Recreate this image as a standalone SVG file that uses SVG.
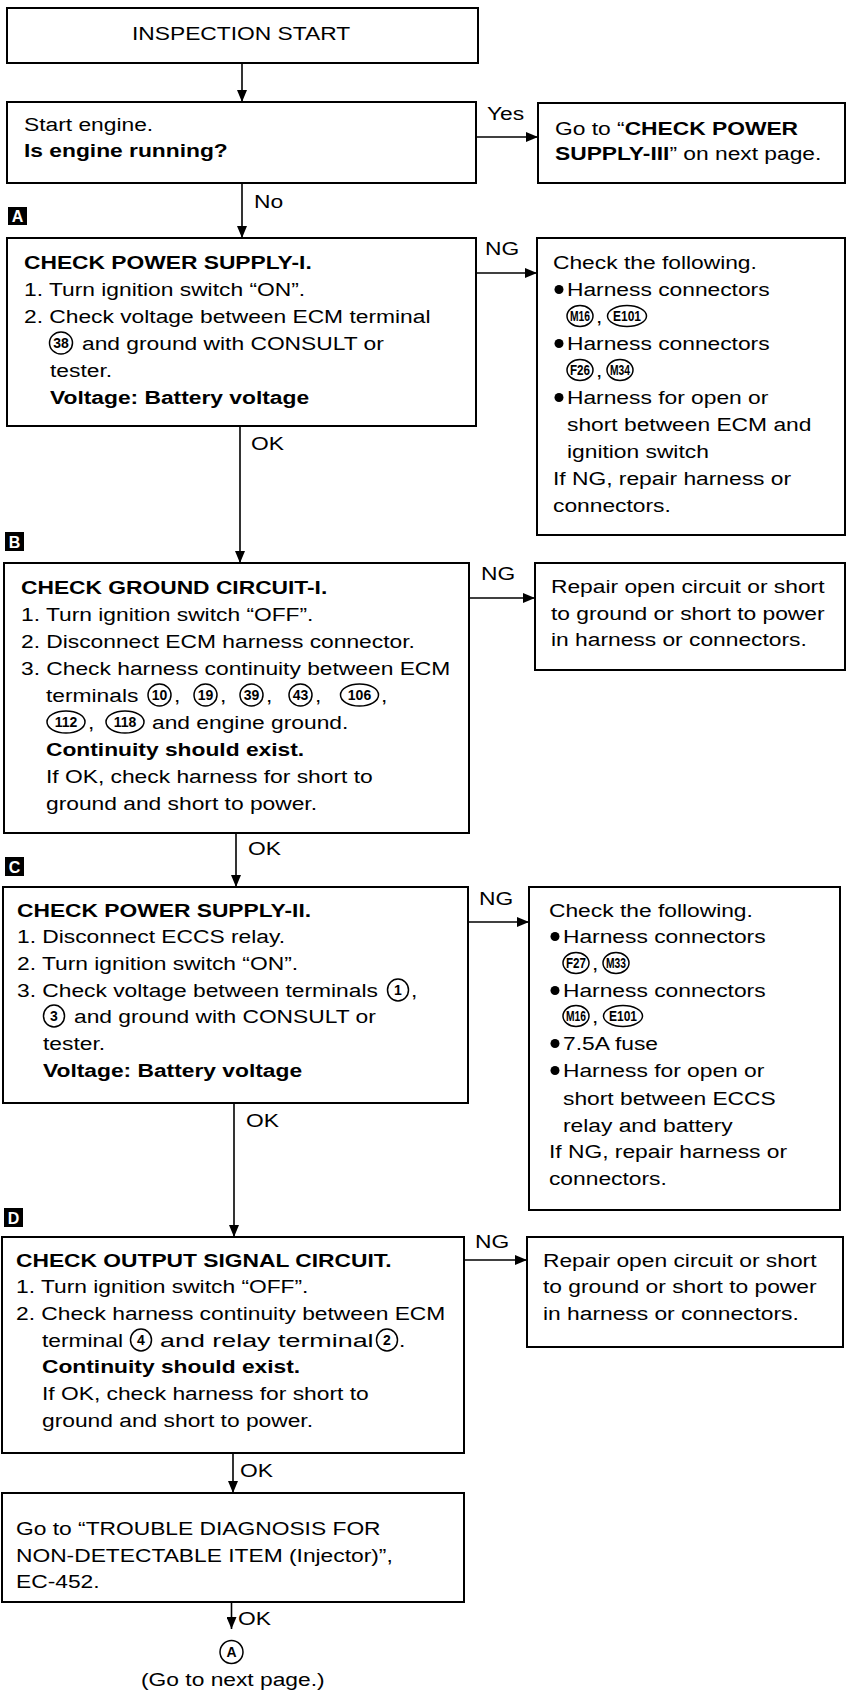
<svg xmlns="http://www.w3.org/2000/svg" width="848" height="1691" viewBox="0 0 848 1691">
<style>
.bx{fill:#fff;stroke:#000;stroke-width:2}
.t{font-family:"Liberation Sans",Arial,sans-serif;font-size:19px;fill:#000;transform-box:fill-box;transform-origin:0 0;transform:scaleX(1.2)}
.b{font-weight:bold}
.ov{fill:none;stroke:#000;stroke-width:1.5}
.ct{font-family:"Liberation Sans",Arial,sans-serif;font-size:14px;font-weight:bold;text-anchor:middle;fill:#000}
.dot{fill:#000}
.cn{fill:none;stroke:#000;stroke-width:1.6}
.tag{fill:#000}
.tt{font-family:"Liberation Sans",Arial,sans-serif;font-size:16px;font-weight:bold;fill:#fff;text-anchor:middle}
</style>
<defs>
<marker id="ah" markerWidth="12" markerHeight="10" refX="12" refY="5" orient="auto" markerUnits="userSpaceOnUse">
<path d="M0,0 L12,5 L0,10 z" fill="#000"/>
</marker>
</defs>

<g id="connectors">
<path class="cn" d="M242,63 V102" marker-end="url(#ah)"/>
<path class="cn" d="M476,137 H538" marker-end="url(#ah)"/>
<text class="t" x="487" y="120">Yes</text>
<path class="cn" d="M242,183 V238" marker-end="url(#ah)"/>
<text class="t" x="254" y="208">No</text>
<path class="cn" d="M476,273 H537" marker-end="url(#ah)"/>
<text class="t" x="485" y="255">NG</text>
<path class="cn" d="M240,426 V563" marker-end="url(#ah)"/>
<text class="t" x="251" y="450">OK</text>
<path class="cn" d="M469,598 H535" marker-end="url(#ah)"/>
<text class="t" x="481" y="580">NG</text>
<path class="cn" d="M236,833 V887" marker-end="url(#ah)"/>
<text class="t" x="248" y="855">OK</text>
<path class="cn" d="M468,922 H529" marker-end="url(#ah)"/>
<text class="t" x="479" y="905">NG</text>
<path class="cn" d="M234,1103 V1237" marker-end="url(#ah)"/>
<text class="t" x="246" y="1127">OK</text>
<path class="cn" d="M464,1260 H527" marker-end="url(#ah)"/>
<text class="t" x="475" y="1248">NG</text>
<path class="cn" d="M233,1453 V1493" marker-end="url(#ah)"/>
<text class="t" x="240" y="1477">OK</text>
<path class="cn" d="M231.5,1602 V1629" marker-end="url(#ah)"/>
<text class="t" x="238" y="1625">OK</text>
</g>

<g id="tags">
<rect class="tag" x="8" y="207" width="19" height="18"/><text class="tt" x="17.5" y="222">A</text>
<rect class="tag" x="5" y="532" width="19" height="19"/><text class="tt" x="14.5" y="547.5">B</text>
<rect class="tag" x="5" y="857" width="19" height="19"/><text class="tt" x="14.5" y="872.5">C</text>
<rect class="tag" x="4" y="1208" width="19" height="19"/><text class="tt" x="13.5" y="1223.5">D</text>
</g>

<g id="start">
<rect class="bx" x="7" y="8" width="471" height="55"/>
<text class="t" x="132" y="40">INSPECTION START</text>
</g>

<g id="engine">
<rect class="bx" x="7" y="102" width="469" height="81"/>
<text class="t" x="24" y="131">Start engine.</text>
<text class="t b" x="24" y="157">Is engine running?</text>
</g>

<g id="goto3">
<rect class="bx" x="538" y="103" width="307" height="80"/>
<text class="t" x="555" y="135">Go to “<tspan class="b">CHECK POWER</tspan></text>
<text class="t" x="555" y="160"><tspan class="b">SUPPLY-III</tspan>” on next page.</text>
</g>

<g id="boxA">
<rect class="bx" x="7" y="238" width="469" height="188"/>
<text class="t b" x="24" y="269">CHECK POWER SUPPLY-I.</text>
<text class="t" x="24" y="296">1. Turn ignition switch “ON”.</text>
<text class="t" x="24" y="323">2. Check voltage between ECM terminal</text>
<ellipse class="ov" cx="61" cy="343" rx="11.5" ry="11"/><text class="ct" x="61" y="348">38</text>
<text class="t" x="82" y="350">and ground with CONSULT or</text>
<text class="t" x="50" y="377">tester.</text>
<text class="t b" x="50" y="404">Voltage: Battery voltage</text>
</g>

<g id="ngA">
<rect class="bx" x="537" y="238" width="308" height="297"/>
<text class="t" x="553" y="269">Check the following.</text>
<circle class="dot" cx="559" cy="289.5" r="4.5"/>
<text class="t" x="567" y="296">Harness connectors</text>
<ellipse class="ov" cx="580" cy="316" rx="13" ry="10.5"/><text class="ct" x="580" y="321" textLength="20" lengthAdjust="spacingAndGlyphs">M16</text>
<text class="t" x="596" y="323">,</text>
<ellipse class="ov" cx="627" cy="316" rx="19.5" ry="10.5"/><text class="ct" x="627" y="321" textLength="28" lengthAdjust="spacingAndGlyphs">E101</text>
<circle class="dot" cx="559" cy="343.5" r="4.5"/>
<text class="t" x="567" y="350">Harness connectors</text>
<ellipse class="ov" cx="580" cy="370" rx="13" ry="10.5"/><text class="ct" x="580" y="375" textLength="20" lengthAdjust="spacingAndGlyphs">F26</text>
<text class="t" x="596" y="377">,</text>
<ellipse class="ov" cx="620" cy="370" rx="13" ry="10.5"/><text class="ct" x="620" y="375" textLength="20" lengthAdjust="spacingAndGlyphs">M34</text>
<circle class="dot" cx="559" cy="397.5" r="4.5"/>
<text class="t" x="567" y="404">Harness for open or</text>
<text class="t" x="567" y="431">short between ECM and</text>
<text class="t" x="567" y="458">ignition switch</text>
<text class="t" x="553" y="485">If NG, repair harness or</text>
<text class="t" x="553" y="512">connectors.</text>
</g>

<g id="boxB">
<rect class="bx" x="4" y="563" width="465" height="270"/>
<text class="t b" x="21" y="594">CHECK GROUND CIRCUIT-I.</text>
<text class="t" x="21" y="621">1. Turn ignition switch “OFF”.</text>
<text class="t" x="21" y="648">2. Disconnect ECM harness connector.</text>
<text class="t" x="21" y="675">3. Check harness continuity between ECM</text>
<text class="t" x="46" y="702">terminals</text>
<ellipse class="ov" cx="159.5" cy="695" rx="11.5" ry="11"/><text class="ct" x="159.5" y="700">10</text>
<text class="t" x="174" y="702">,</text>
<ellipse class="ov" cx="205.5" cy="695" rx="11.5" ry="11"/><text class="ct" x="205.5" y="700">19</text>
<text class="t" x="220" y="702">,</text>
<ellipse class="ov" cx="251.5" cy="695" rx="11.5" ry="11"/><text class="ct" x="251.5" y="700">39</text>
<text class="t" x="266" y="702">,</text>
<ellipse class="ov" cx="300.5" cy="695" rx="11.5" ry="11"/><text class="ct" x="300.5" y="700">43</text>
<text class="t" x="315" y="702">,</text>
<ellipse class="ov" cx="359.5" cy="695" rx="19" ry="11"/><text class="ct" x="359.5" y="700">106</text>
<text class="t" x="381" y="702">,</text>
<ellipse class="ov" cx="66" cy="722" rx="19" ry="11"/><text class="ct" x="66" y="727">112</text>
<text class="t" x="88" y="729">,</text>
<ellipse class="ov" cx="125" cy="722" rx="19" ry="11"/><text class="ct" x="125" y="727">118</text>
<text class="t" x="152" y="729">and engine ground.</text>
<text class="t b" x="46" y="756">Continuity should exist.</text>
<text class="t" x="46" y="783">If OK, check harness for short to</text>
<text class="t" x="46" y="810">ground and short to power.</text>
</g>

<g id="ngB">
<rect class="bx" x="535" y="563" width="310" height="107"/>
<text class="t" x="551" y="593">Repair open circuit or short</text>
<text class="t" x="551" y="620">to ground or short to power</text>
<text class="t" x="551" y="646">in harness or connectors.</text>
</g>

<g id="boxC">
<rect class="bx" x="3" y="887" width="465" height="216"/>
<text class="t b" x="17" y="917">CHECK POWER SUPPLY-II.</text>
<text class="t" x="17" y="943">1. Disconnect ECCS relay.</text>
<text class="t" x="17" y="970">2. Turn ignition switch “ON”.</text>
<text class="t" x="17" y="997">3. Check voltage between terminals</text>
<ellipse class="ov" cx="398" cy="990" rx="10.5" ry="11"/><text class="ct" x="398" y="995">1</text>
<text class="t" x="411" y="997">,</text>
<ellipse class="ov" cx="54" cy="1016" rx="10.5" ry="11"/><text class="ct" x="54" y="1021">3</text>
<text class="t" x="74" y="1023">and ground with CONSULT or</text>
<text class="t" x="43" y="1050">tester.</text>
<text class="t b" x="43" y="1077">Voltage: Battery voltage</text>
</g>

<g id="ngC">
<rect class="bx" x="529" y="887" width="311" height="323"/>
<text class="t" x="549" y="917">Check the following.</text>
<circle class="dot" cx="555" cy="936.5" r="4.5"/>
<text class="t" x="563" y="943">Harness connectors</text>
<ellipse class="ov" cx="576" cy="963" rx="13" ry="10.5"/><text class="ct" x="576" y="968" textLength="20" lengthAdjust="spacingAndGlyphs">F27</text>
<text class="t" x="592" y="970">,</text>
<ellipse class="ov" cx="616" cy="963" rx="13" ry="10.5"/><text class="ct" x="616" y="968" textLength="20" lengthAdjust="spacingAndGlyphs">M33</text>
<circle class="dot" cx="555" cy="990.5" r="4.5"/>
<text class="t" x="563" y="997">Harness connectors</text>
<ellipse class="ov" cx="576" cy="1016" rx="13" ry="10.5"/><text class="ct" x="576" y="1021" textLength="20" lengthAdjust="spacingAndGlyphs">M16</text>
<text class="t" x="592" y="1023">,</text>
<ellipse class="ov" cx="623" cy="1016" rx="19.5" ry="10.5"/><text class="ct" x="623" y="1021" textLength="28" lengthAdjust="spacingAndGlyphs">E101</text>
<circle class="dot" cx="555" cy="1043.5" r="4.5"/>
<text class="t" x="563" y="1050">7.5A fuse</text>
<circle class="dot" cx="555" cy="1070.5" r="4.5"/>
<text class="t" x="563" y="1077">Harness for open or</text>
<text class="t" x="563" y="1105">short between ECCS</text>
<text class="t" x="563" y="1132">relay and battery</text>
<text class="t" x="549" y="1158">If NG, repair harness or</text>
<text class="t" x="549" y="1185">connectors.</text>
</g>

<g id="boxD">
<rect class="bx" x="2" y="1237" width="462" height="216"/>
<text class="t b" x="16" y="1267">CHECK OUTPUT SIGNAL CIRCUIT.</text>
<text class="t" x="16" y="1293">1. Turn ignition switch “OFF”.</text>
<text class="t" x="16" y="1320">2. Check harness continuity between ECM</text>
<text class="t" x="42" y="1347">terminal</text>
<ellipse class="ov" cx="141" cy="1340" rx="10.5" ry="11"/><text class="ct" x="141" y="1345">4</text>
<text class="t" x="160" y="1347" textLength="178" lengthAdjust="spacingAndGlyphs">and relay terminal</text>
<ellipse class="ov" cx="387" cy="1340" rx="10.5" ry="11"/><text class="ct" x="387" y="1345">2</text>
<text class="t" x="399" y="1347">.</text>
<text class="t b" x="42" y="1373">Continuity should exist.</text>
<text class="t" x="42" y="1400">If OK, check harness for short to</text>
<text class="t" x="42" y="1427">ground and short to power.</text>
</g>

<g id="ngD">
<rect class="bx" x="527" y="1237" width="316" height="110"/>
<text class="t" x="543" y="1267">Repair open circuit or short</text>
<text class="t" x="543" y="1293">to ground or short to power</text>
<text class="t" x="543" y="1320">in harness or connectors.</text>
</g>

<g id="final">
<rect class="bx" x="2" y="1493" width="462" height="109"/>
<text class="t" x="16" y="1535">Go to “TROUBLE DIAGNOSIS FOR</text>
<text class="t" x="16" y="1562">NON-DETECTABLE ITEM (Injector)”,</text>
<text class="t" x="16" y="1588">EC-452.</text>
</g>

<g id="nextA">
<circle class="ov" cx="231.5" cy="1652" r="11.5"/>
<text class="ct" x="231.5" y="1657" style="font-size:14px">A</text>
<text class="t" x="141" y="1686">(Go to next page.)</text>
</g>
</svg>
